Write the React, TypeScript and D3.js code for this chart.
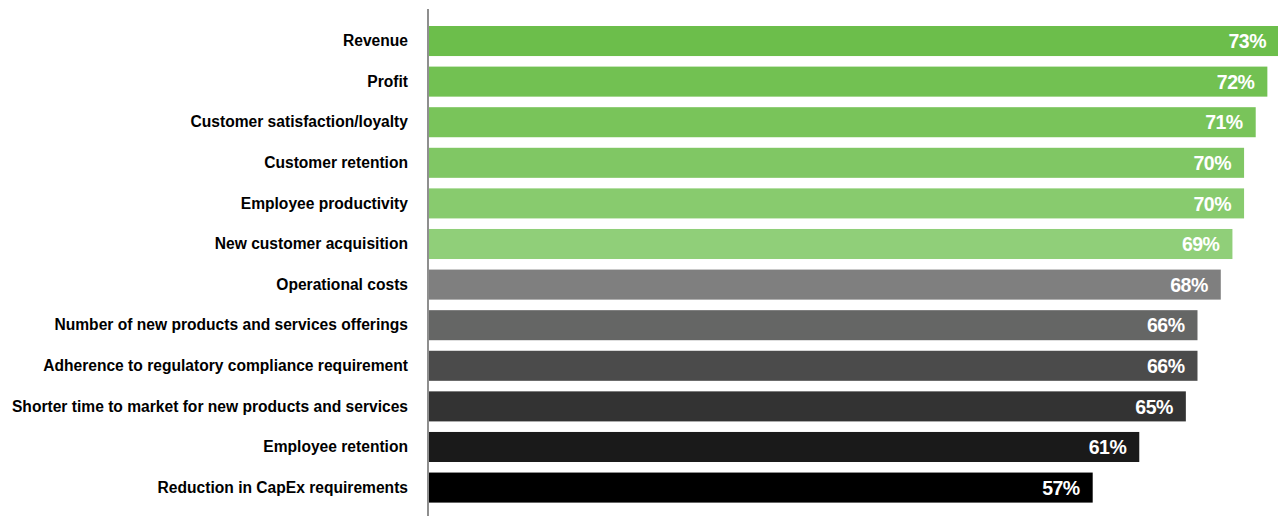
import React from "react";
import * as d3 from "d3";

const categories = [
  "Revenue",
  "Profit",
  "Customer satisfaction/loyalty",
  "Customer retention",
  "Employee productivity",
  "New customer acquisition",
  "Operational costs",
  "Number of new products and services offerings",
  "Adherence to regulatory compliance requirement",
  "Shorter time to market for new products and services",
  "Employee retention",
  "Reduction in CapEx requirements",
];
const values = [73, 72, 71, 70, 70, 69, 68, 66, 66, 65, 61, 57];
const colors = [
  "#6cbe4b",
  "#72c152",
  "#79c45a",
  "#80c764",
  "#88cb6e",
  "#90cf79",
  "#7f7f7f",
  "#656665",
  "#4b4b4b",
  "#333333",
  "#1a1a1a",
  "#000000",
];

const W = 1278;
const H = 516;
const font = "'Liberation Sans', Arial, Helvetica, sans-serif";

export default function App() {
  const x = d3.scaleLinear().domain([0, 73]).range([429, 1279]);
  const y = d3
    .scaleBand<string>()
    .domain(categories)
    .range([26, 502.6])
    .paddingInner(0.26)
    .paddingOuter(0);

  return (
    <svg
      width={W}
      height={H}
      style={{ position: "absolute", left: 0, top: 0, display: "block" }}
    >
      <rect x={0} y={0} width={W} height={H} fill="#ffffff" />
      {categories.map((c, i) => {
        const yy = y(c)!;
        const bw = y.bandwidth();
        return (
          <g key={c}>
            <rect
              x={x(0)}
              y={yy}
              width={x(values[i]) - x(0)}
              height={bw}
              fill={colors[i]}
            />
            <text
              x={408}
              y={yy + bw / 2}
              dy="0.33em"
              textAnchor="end"
              fontFamily={font}
              fontWeight="bold"
              fontSize={15.6}
              fill="#000"
            >
              {c}
            </text>
            <text
              x={x(values[i]) - 13}
              y={yy + bw / 2}
              dy="0.37em"
              textAnchor="end"
              fontFamily={font}
              fontWeight="bold"
              fontSize={19.5}
              fill="#ffffff"
              letterSpacing={-0.5}
            >
              {values[i]}%
            </text>
          </g>
        );
      })}
      <line x1={428} x2={428} y1={9} y2={H} stroke="#444" strokeWidth={1.2} />
    </svg>
  );
}
